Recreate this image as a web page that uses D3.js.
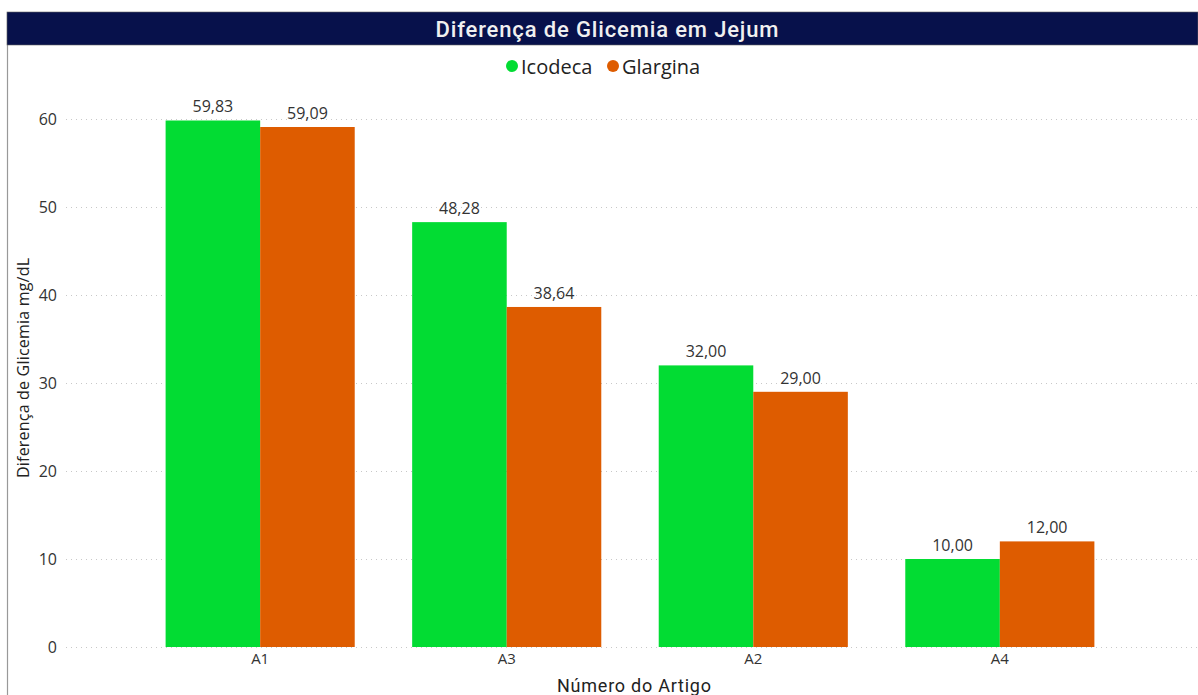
<!DOCTYPE html>
<html>
<head>
<meta charset="utf-8">
<script src="https://cdn.jsdelivr.net/npm/d3@7"></script>
<style>
  body { margin: 0; background: #fff; }
  text { font-family: "Open Sans", "Noto Sans", sans-serif; }
</style>
</head>
<body>
<div id="chart"></div>
<script>
// data
var artigos = ["A1", "A3", "A2", "A4"];
var series = ["Icodeca", "Glargina"];
var icodeca = [59.83, 48.28, 32.00, 10.00];
var glargina = [59.09, 38.64, 29.00, 12.00];
var yTicks = [0, 10, 20, 30, 40, 50, 60];
var colors = ["#02dc33", "#de5c00"];

var W = 1198, H = 695;
var rows = artigos.map((a, i) => ({ artigo: a, vals: [icodeca[i], glargina[i]] }));

var svg = d3.select("#chart").append("svg")
  .attr("width", W).attr("height", H);

// frame + title bar
svg.append("line").attr("x1", 7.5).attr("x2", 7.5).attr("y1", 12).attr("y2", H)
  .attr("stroke", "#999").attr("stroke-width", 1.2);
svg.append("rect").attr("x", 7).attr("y", 12).attr("width", W - 7).attr("height", 33)
  .attr("fill", "#07114b").attr("stroke", "#666").attr("stroke-width", 0.6);
svg.append("text").attr("x", 607).attr("y", 29).attr("text-anchor", "middle")
  .attr("dominant-baseline", "central")
  .style("font-family", "'Roboto', sans-serif").style("font-weight", 500)
  .style("font-size", "22px").attr("fill", "#f0f0f0")
  .attr("textLength", 343).attr("lengthAdjust", "spacing")
  .text("Diferença de Glicemia em Jejum");

// legend
var leg = svg.append("g").attr("transform", "translate(0,66)");
var legX = [512, 613];
series.forEach((s, i) => {
  leg.append("circle").attr("cx", legX[i]).attr("cy", 0).attr("r", 6).attr("fill", colors[i]);
  leg.append("text").attr("x", legX[i] + 9).attr("y", 0).attr("dominant-baseline", "central")
    .style("font-size", "20px").attr("fill", "#222").text(s);
});

var x0 = 66, x1 = 1194, yTop = 119, yBot = 647;

var xScale = d3.scaleBand().domain(artigos).range([x0, x1])
  .paddingInner(0.233).paddingOuter(0.404);
var xSub = d3.scaleBand().domain(series).range([0, xScale.bandwidth()]);
var yScale = d3.scaleLinear().domain([0, 60]).range([yBot, yTop]);

// grid
svg.append("g").selectAll("line").data(yTicks).join("line")
  .attr("x1", x0).attr("x2", W)
  .attr("y1", d => yScale(d) + 0.5).attr("y2", d => yScale(d) + 0.5)
  .attr("stroke", "#c8c8c8").attr("stroke-dasharray", "1,4");

// y axis
var yAxis = d3.axisLeft(yScale).tickValues(yTicks).tickSize(0).tickPadding(0);
var gy = svg.append("g").attr("transform", "translate(57,0)").call(yAxis);
gy.select(".domain").remove();
gy.selectAll("text").style("font-size", "16px").attr("fill", "#333")
  .style("font-family", "'Open Sans', sans-serif");

// x axis
var xAxis = d3.axisBottom(xScale).tickSize(0).tickPadding(6);
var gx = svg.append("g").attr("transform", `translate(0,${yBot})`).call(xAxis);
gx.select(".domain").remove();
gx.selectAll("text").style("font-size", "15px").attr("fill", "#333")
  .style("font-family", "'Open Sans', sans-serif");

// bars
var grp = svg.append("g").selectAll("g").data(rows).join("g")
  .attr("transform", d => `translate(${xScale(d.artigo)},0)`);

grp.selectAll("rect").data(d => d.vals.map((v, i) => ({ s: series[i], v: v, i: i }))).join("rect")
  .attr("x", d => xSub(d.s))
  .attr("y", d => yScale(d.v))
  .attr("width", xSub.bandwidth())
  .attr("height", d => yBot - yScale(d.v))
  .attr("fill", d => colors[d.i]);

grp.selectAll("text.lbl").data(d => d.vals.map((v, i) => ({ s: series[i], v: v }))).join("text")
  .attr("class", "lbl")
  .attr("x", d => xSub(d.s) + xSub.bandwidth() / 2)
  .attr("y", d => yScale(d.v) - 8)
  .attr("text-anchor", "middle")
  .style("font-size", "16px").attr("fill", "#333")
  .text(d => d3.format(".2f")(d.v).replace(".", ","));

// axis titles
svg.append("text").attr("x", 634).attr("y", 685).attr("text-anchor", "middle")
  .attr("dominant-baseline", "central")
  .style("font-family", "'Roboto', sans-serif")
  .style("font-size", "18px").attr("fill", "#222")
  .attr("textLength", 154).attr("lengthAdjust", "spacing")
  .text("Número do Artigo");
svg.append("text").attr("transform", "translate(23,368) rotate(-90)")
  .attr("text-anchor", "middle").attr("dominant-baseline", "central")
  .style("font-size", "16px").attr("fill", "#222")
  .attr("textLength", 220).attr("lengthAdjust", "spacing")
  .text("Diferença de Glicemia mg/dL");
</script>
</body>
</html>
